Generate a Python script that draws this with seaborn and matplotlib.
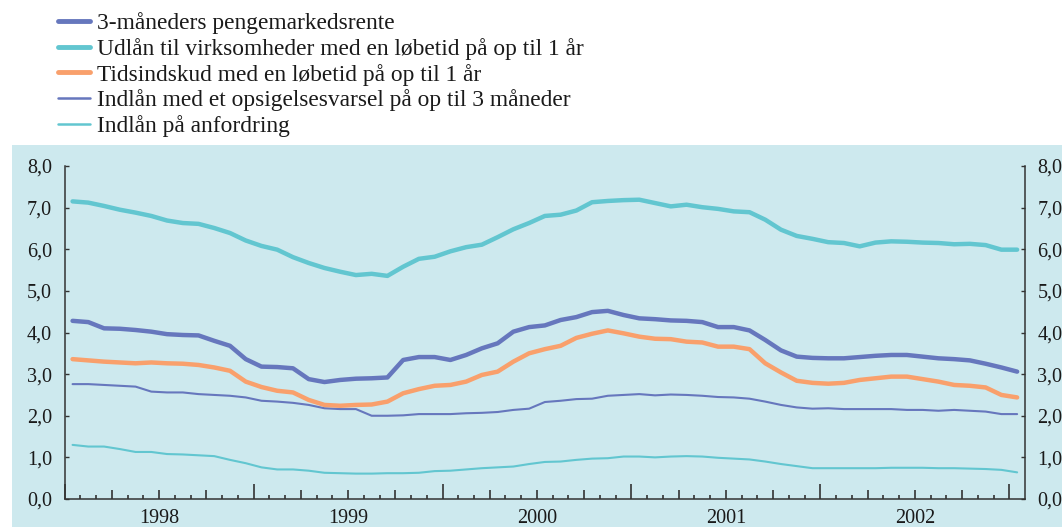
import numpy as np
import pandas as pd
import matplotlib
matplotlib.use("Agg")
import matplotlib.pyplot as plt
import seaborn as sns
from matplotlib.patches import Rectangle
from matplotlib.lines import Line2D
from matplotlib.ticker import FixedLocator, FixedFormatter, FuncFormatter

# ---------------- data ----------------
months = pd.date_range("1998-01-01", periods=61, freq="MS")
year_labels = ["1998", "1999", "2000", "2001", "2002"]

labels = [
    "3-måneders pengemarkedsrente",
    "Udlån til virksomheder med en løbetid på op til 1 år",
    "Tidsindskud med en løbetid på op til 1 år",
    "Indlån med et opsigelsesvarsel på op til 3 måneder",
    "Indlån på anfordring",
]

pengemarked = [4.28, 4.25, 4.10, 4.09, 4.06, 4.02, 3.96, 3.94, 3.93, 3.80,
               3.68, 3.36, 3.18, 3.17, 3.14, 2.88, 2.81, 2.86, 2.89, 2.90,
               2.92, 3.34, 3.41, 3.41, 3.34, 3.46, 3.62, 3.74, 4.02, 4.13,
               4.17, 4.30, 4.37, 4.49, 4.52, 4.42, 4.34, 4.32, 4.29, 4.28,
               4.25, 4.13, 4.13, 4.05, 3.82, 3.57, 3.42, 3.39, 3.38, 3.38,
               3.41, 3.44, 3.46, 3.46, 3.42, 3.38, 3.36, 3.33, 3.25, 3.16,
               3.06]

udlaan = [7.15, 7.12, 7.04, 6.95, 6.88, 6.80, 6.69, 6.63, 6.61, 6.51,
          6.39, 6.21, 6.08, 5.99, 5.81, 5.67, 5.55, 5.46, 5.38, 5.41,
          5.36, 5.58, 5.77, 5.82, 5.95, 6.05, 6.11, 6.29, 6.48, 6.63,
          6.80, 6.83, 6.93, 7.13, 7.16, 7.18, 7.19, 7.11, 7.03, 7.07,
          7.01, 6.97, 6.91, 6.89, 6.71, 6.47, 6.32, 6.25, 6.17, 6.15,
          6.07, 6.16, 6.19, 6.18, 6.16, 6.15, 6.12, 6.13, 6.10, 5.99,
          5.99]

tidsindskud = [3.36, 3.33, 3.30, 3.28, 3.26, 3.28, 3.26, 3.25, 3.22, 3.16,
               3.08, 2.82, 2.69, 2.60, 2.56, 2.38, 2.26, 2.24, 2.26, 2.27,
               2.34, 2.54, 2.64, 2.72, 2.74, 2.82, 2.98, 3.06, 3.30, 3.50,
               3.60, 3.68, 3.87, 3.97, 4.05, 3.98, 3.90, 3.85, 3.84, 3.78,
               3.76, 3.66, 3.66, 3.60, 3.26, 3.04, 2.84, 2.79, 2.77, 2.79,
               2.86, 2.90, 2.94, 2.94, 2.88, 2.82, 2.74, 2.72, 2.68, 2.50,
               2.44]

opsigelse = [2.76, 2.76, 2.74, 2.72, 2.70, 2.58, 2.56, 2.56, 2.52, 2.50,
             2.48, 2.44, 2.36, 2.34, 2.31, 2.26, 2.18, 2.16, 2.16, 2.00,
             2.00, 2.01, 2.04, 2.04, 2.04, 2.06, 2.07, 2.09, 2.14, 2.17,
             2.33, 2.36, 2.40, 2.41, 2.48, 2.50, 2.52, 2.49, 2.51, 2.50,
             2.48, 2.45, 2.44, 2.41, 2.34, 2.26, 2.20, 2.17, 2.18, 2.16,
             2.16, 2.16, 2.16, 2.14, 2.14, 2.12, 2.14, 2.12, 2.10, 2.04,
             2.04]

anfordring = [1.30, 1.26, 1.26, 1.20, 1.13, 1.13, 1.08, 1.07, 1.05, 1.03,
              0.94, 0.86, 0.76, 0.71, 0.71, 0.68, 0.63, 0.62, 0.61, 0.61,
              0.62, 0.62, 0.63, 0.67, 0.68, 0.71, 0.74, 0.76, 0.78, 0.84,
              0.89, 0.90, 0.94, 0.97, 0.98, 1.02, 1.02, 1.00, 1.02, 1.03,
              1.02, 0.99, 0.97, 0.95, 0.90, 0.84, 0.79, 0.74, 0.74, 0.74,
              0.74, 0.74, 0.75, 0.75, 0.75, 0.74, 0.74, 0.73, 0.72, 0.70,
              0.64]

series = [pengemarked, udlaan, tidsindskud, opsigelse, anfordring]

# ---------------- style ----------------
BLUE = "#6677BD"
CYAN = "#62C6D0"
ORANGE = "#F9A06C"
BG = "#CDE9EE"
TXT = "#1a1a1a"
colors = [BLUE, CYAN, ORANGE, BLUE, CYAN]
widths = [3.2, 3.2, 3.2, 1.5, 1.5]

sns.set_style("white")
plt.rcParams["font.family"] = ["Liberation Serif", "DejaVu Serif"]
plt.rcParams["font.size"] = 14.5
plt.rcParams["text.color"] = TXT
plt.rcParams["xtick.color"] = "#333333"
plt.rcParams["ytick.color"] = "#333333"
plt.rcParams["xtick.labelcolor"] = TXT
plt.rcParams["ytick.labelcolor"] = TXT

W, H = 1062, 527
fig = plt.figure(figsize=(W / 100, H / 100), dpi=100)
fig.patch.set_facecolor("white")

# blue panel behind the chart
panel = Rectangle((12 / W, 0), 1 - 12 / W, (H - 145) / H,
                  transform=fig.transFigure, facecolor=BG,
                  edgecolor="none", zorder=-10)
fig.add_artist(panel)

ax = fig.add_axes([64.7 / W, (H - 499) / H, (1025 - 64.7) / W, (499 - 166) / H])
ax.set_zorder(5)
ax.set_facecolor("none")
ax.patch.set_alpha(0)

# long-form data
frames = []
for lab, vals in zip(labels, series):
    frames.append(pd.DataFrame({"x": np.arange(len(months)) + 0.5,
                                "value": vals, "serie": lab}))
df = pd.concat(frames, ignore_index=True)

order = [3, 4, 2, 1, 0]
for i in order:
    sub = df[df["serie"] == labels[i]]
    sns.lineplot(data=sub, x="x", y="value", ax=ax, color=colors[i],
                 linewidth=widths[i], legend=False, zorder=3 + (i < 3))

ax.set_xlim(0, len(months))
ax.set_ylim(0, 8)
ax.set_xlabel("")
ax.set_ylabel("")

# spines
for s in ["left", "right", "bottom"]:
    ax.spines[s].set_visible(True)
    ax.spines[s].set_color("#333333")
    ax.spines[s].set_linewidth(1.1)
ax.spines["top"].set_visible(False)

# y axis both sides
ax.set_yticks(np.arange(0, 9, 1))
ax.yaxis.set_major_formatter(FuncFormatter(lambda v, p: f"{v:.1f}".replace(".", ",")))
ax.tick_params(axis="y", which="major", direction="in", length=3, width=1,
               left=True, right=True, labelleft=True, labelright=True,
               pad=9, labelsize=14.5)

# x axis: month ticks with three lengths, year labels at mid-year
ax.xaxis.remove_overlapping_locs = False
tick_pos = list(range(0, len(months)))
ax.xaxis.set_major_locator(FixedLocator(tick_pos))
ax.xaxis.set_major_formatter(FixedFormatter([""] * len(tick_pos)))
ax.xaxis.set_minor_locator(FixedLocator([6 + 12 * k for k in range(len(year_labels))]))
ax.xaxis.set_minor_formatter(FixedFormatter(year_labels))
ax.tick_params(axis="x", which="major", direction="in", width=1.2, bottom=True)
ax.tick_params(axis="x", which="minor", length=0, pad=7, labelsize=14.5, bottom=True)
for pos, t in zip(tick_pos, ax.xaxis.get_major_ticks()):
    if pos % 12 == 0:
        L = 10.5
    elif pos % 3 == 0:
        L = 6.5
    else:
        L = 3.2
    t.tick1line.set_markersize(L)
ax.grid(False)

# legend
handles = [Line2D([], [], color=colors[i], linewidth=widths[i] + 0.3) for i in range(5)]
fig.legend(handles, labels, loc="upper left",
           bbox_to_anchor=(49 / W, 1 - 3 / H), frameon=False,
           fontsize=16.8, handlelength=1.37, handletextpad=0.3,
           labelspacing=0.16, borderaxespad=0)

fig.savefig("out.png", dpi=100, facecolor="white")
